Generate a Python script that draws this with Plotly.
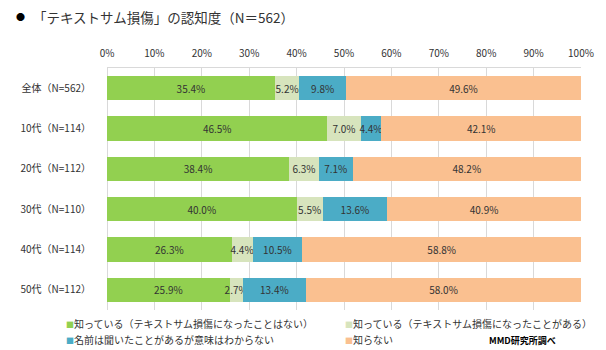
import plotly.graph_objects as go

categories = ["全体（N=562）", "10代（N=114）", "20代（N=112）", "30代（N=110）", "40代（N=114）", "50代（N=112）"]
series_names = [
    "知っている（テキストサム損傷になったことはない）",
    "知っている（テキストサム損傷になったことがある）",
    "名前は聞いたことがあるが意味はわからない",
    "知らない",
]
known_never = [35.4, 46.5, 38.4, 40.0, 26.3, 25.9]
known_had = [5.2, 7.0, 6.3, 5.5, 4.4, 2.7]
heard_only = [9.8, 4.4, 7.1, 13.6, 10.5, 13.4]
unknown = [49.6, 42.1, 48.2, 40.9, 58.8, 58.0]
tick_vals = [0, 10, 20, 30, 40, 50, 60, 70, 80, 90, 100]
tick_text = [f"{v}%" for v in tick_vals]

colors = ["#92d050", "#d7e4bd", "#4bacc6", "#fac090"]
series = [known_never, known_had, heard_only, unknown]
FONT = "Noto Sans CJK JP"
TXT = "#333333"

fig = go.Figure()
for name, vals, col in zip(series_names, series, colors):
    fig.add_trace(go.Bar(
        name=name, y=categories, x=vals, orientation="h",
        marker=dict(color=col, line=dict(width=0)),
        text=[f"{v:.1f}%" for v in vals],
        textposition="inside", insidetextanchor="middle", textangle=0,
        constraintext="none", cliponaxis=False,
        textfont=dict(family=FONT, size=10, color=TXT),
        showlegend=False,
    ))

fig.update_layout(
    width=606, height=350,
    margin=dict(l=107, r=21, t=68, b=40),
    barmode="stack", bargap=0.4,
    plot_bgcolor="white", paper_bgcolor="white",
    font=dict(family=FONT, size=10, color=TXT),
    showlegend=False,
)
fig.update_xaxes(
    side="top", range=[0, 100], tickvals=tick_vals, ticktext=tick_text,
    showgrid=True, gridcolor="#d9d9d9", gridwidth=1,
    zeroline=True, zerolinecolor="#d9d9d9", zerolinewidth=1,
    showline=True, linecolor="#d9d9d9", linewidth=1,
    ticks="", ticklabelstandoff=6,
    tickfont=dict(family=FONT, size=10, color=TXT), fixedrange=True,
)
fig.update_yaxes(
    autorange="reversed", showgrid=False, showline=False, zeroline=False,
    ticks="", ticklabelstandoff=15,
    tickfont=dict(family=FONT, size=10, color=TXT), fixedrange=True,
)

PW, PH, PL, PT = 478, 242, 107, 68
def px(x):
    return (x - PL) / PW
def py(y):
    return (PT + PH - y) / PH

fig.add_annotation(xref="paper", yref="paper", x=px(20), y=py(17), text="●",
                   showarrow=False, xanchor="center", yanchor="middle",
                   font=dict(family=FONT, size=9, color="#000"))
fig.add_annotation(xref="paper", yref="paper", x=px(30), y=py(17),
                   text="「テキストサム損傷」の認知度（N＝562）",
                   showarrow=False, xanchor="left", yanchor="middle",
                   font=dict(family=FONT, size=13.5, color=TXT))

legend_pos = [(64, 323), (345, 323), (64, 339), (345, 339)]
for (lx, ly), name, col in zip(legend_pos, series_names, colors):
    fig.add_annotation(
        xref="paper", yref="paper", x=px(lx), y=py(ly),
        text=f"<span style='color:{col};font-size:8px'>■</span>{name}",
        showarrow=False, xanchor="left", yanchor="middle",
        font=dict(family=FONT, size=10, color=TXT))

fig.add_annotation(xref="paper", yref="paper", x=px(562), y=py(340),
                   text="<b>MMD研究所調べ</b>", showarrow=False,
                   xanchor="right", yanchor="middle",
                   font=dict(family=FONT, size=9, color="#000"))

fig.write_html("out.html")
